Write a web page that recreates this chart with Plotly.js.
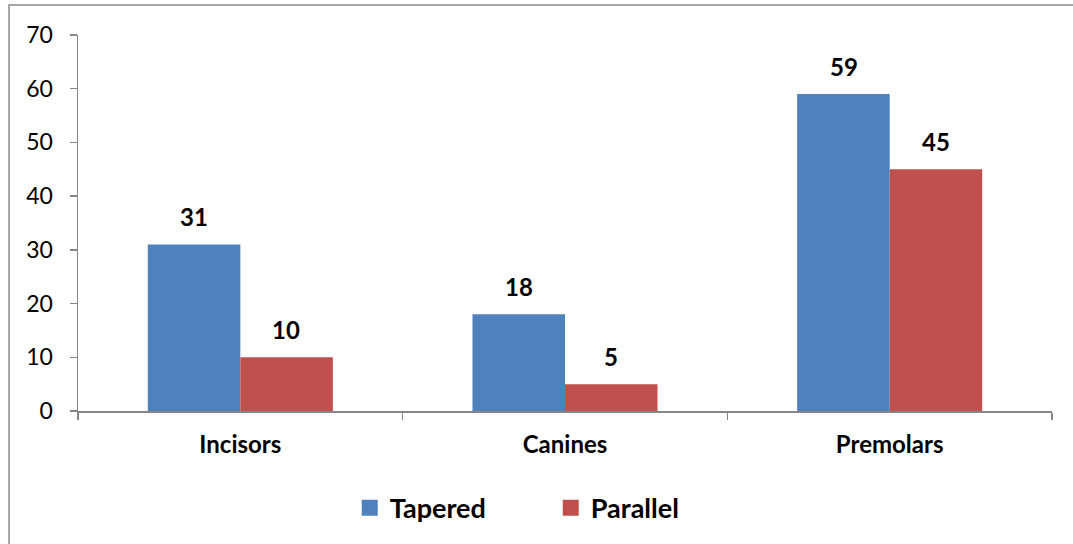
<!DOCTYPE html>
<html>
<head>
<meta charset="utf-8">
<script src="https://cdn.plot.ly/plotly-3.0.1.min.js"></script>
<style>html,body{margin:0;padding:0;background:#fff;}#chart{width:1073px;height:544px;}</style>
</head>
<body>
<div id="chart"></div>
<script>
const categories = ["Incisors", "Canines", "Premolars"];
const tapered = [31, 18, 59];
const parallel = [10, 5, 45];
const seriesNames = ["Tapered", "Parallel"];
const colors = ["#4F81BD", "#C0504D"];

const FONT = "Lato, 'Open Sans', sans-serif";
const allSeries = [tapered, parallel];

const traces = allSeries.map((vals, i) => ({
  type: "bar",
  x: categories,
  y: vals,
  name: seriesNames[i],
  marker: {color: colors[i]},
  showlegend: false,
  legendgroup: seriesNames[i],
  hoverinfo: "x+y+name"
}));
// legend-only entries with larger square symbols
seriesNames.forEach((n, i) => traces.push({
  type: "scatter", mode: "markers", x: [null], y: [null], name: n,
  legendgroup: n,
  marker: {symbol: "square", size: 16, color: colors[i]}
}));

const annotations = [];
allSeries.forEach((vals, i) => {
  vals.forEach((v, j) => {
    annotations.push({
      x: categories[j], y: v, xref: "x", yref: "y",
      text: String(v), showarrow: false,
      xshift: i === 0 ? -46 : 46, yshift: 28, yanchor: "middle",
      font: {family: FONT, size: 24, color: "#000", weight: "bold"}
    });
  });
});

const layout = {
  width: 1073, height: 544,
  margin: {l: 78, r: 21, t: 35, b: 132},
  paper_bgcolor: "#fff", plot_bgcolor: "#fff",
  font: {family: FONT, color: "#000"},
  barmode: "group",
  bargap: 0.43,
  bargroupgap: 0,
  showlegend: true,
  legend: {
    orientation: "h", x: 0.279, xanchor: "left", y: -0.255, yanchor: "middle",
    font: {family: FONT, size: 27, color: "#000", weight: "bold"},
    entrywidth: 156, entrywidthmode: "pixels",
    itemsizing: "trace", bgcolor: "rgba(0,0,0,0)"
  },
  xaxis: {
    type: "category",
    showline: true, linecolor: "#868686", linewidth: 1.5,
    ticks: "outside", tickson: "boundaries", ticklen: 7, tickcolor: "#868686", tickwidth: 1.5,
    tickfont: {family: FONT, size: 24, color: "#000", weight: "bold"},
    ticklabelstandoff: 12,
    showgrid: false, zeroline: false, fixedrange: true
  },
  yaxis: {
    range: [0, 70], dtick: 10, tick0: 0,
    showline: true, linecolor: "#868686", linewidth: 1.5,
    ticks: "outside", ticklen: 7, tickcolor: "#868686", tickwidth: 1.5,
    tickfont: {family: FONT, size: 23, color: "#000"},
    ticklabelstandoff: 12,
    showgrid: false, zeroline: false, fixedrange: true
  },
  annotations: annotations,
  shapes: [{
    type: "rect", xref: "paper", yref: "paper",
    x0: -0.0708, x1: 1.2, y0: -0.5, y1: 1.0796,
    line: {color: "#8a8a8a", width: 1.5}, fillcolor: "rgba(0,0,0,0)", layer: "below"
  }]
};

Plotly.newPlot("chart", traces, layout, {displayModeBar: false, staticPlot: true});
</script>
</body>
</html>
